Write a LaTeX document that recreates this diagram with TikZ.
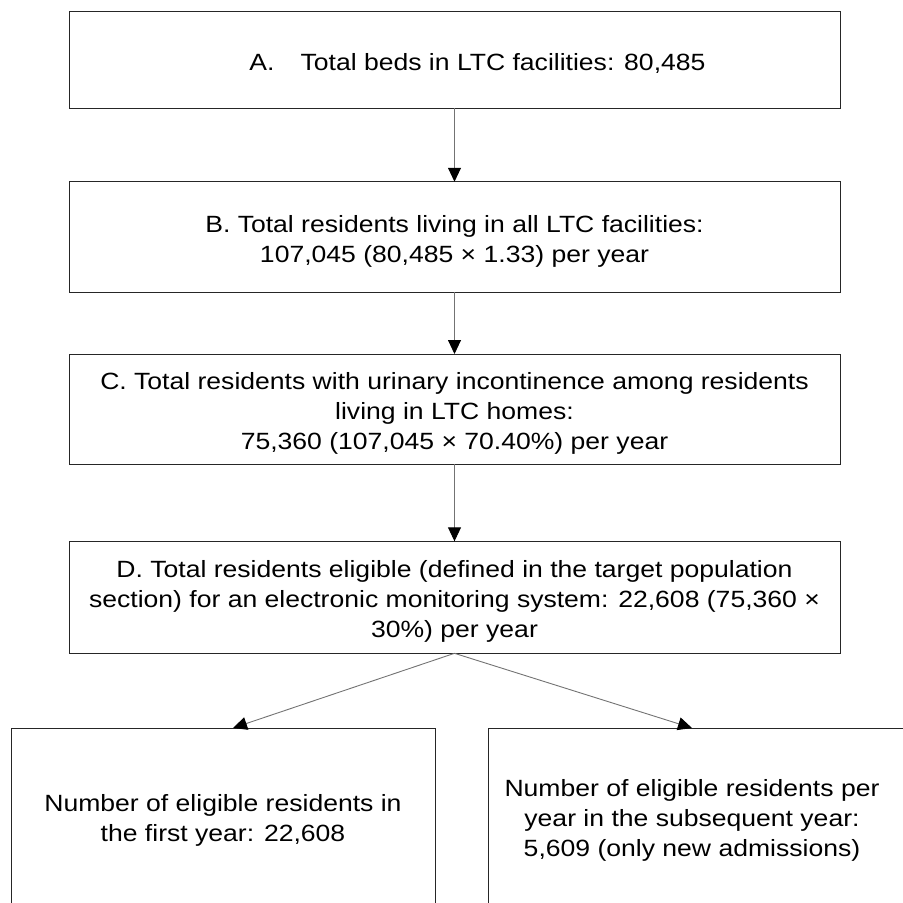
\documentclass[tikz,border=0pt]{standalone}
\usepackage{fontspec}
\setmainfont{Liberation Sans}[FakeStretch=1.13]
\usetikzlibrary{arrows.meta}
\newcommand{\firststrut}{\rule{0pt}{25pt}}
\tikzset{ box_style/.style = { rectangle % step box
        , draw = black!85
        , line width = 1pt
        , inner sep = 0pt
        , outer sep = 0pt
        , align = center
        , minimum width = 771pt
        , font = \fontsize{23.5}{30}\selectfont
        }
        , txt_style/.style = { rectangle % plain text
        , inner sep = 0pt
        , align = center
        , font = \fontsize{23.5}{30}\selectfont
        }
        }

\begin{document}
\begin{tikzpicture}[x=1pt, y=-1pt,
        edge_style/.style={draw=black!55, line width=0.9pt, -{Triangle[width=13pt,length=14pt,color=black]}}]
        \useasboundingbox (0,0) rectangle (903,903);

        \node [box_style, minimum height=97pt](A) at (454.5,59.5) {\firststrut\hspace*{46pt}A.\hspace{26pt}Total beds in LTC facilities: 80,485};
        \node [box_style, minimum height=110.5pt](B) at (454.5,237) {\firststrut B. Total residents living in all LTC facilities:\\107,045 (80,485 × 1.33) per year};
        \node [box_style, minimum height=110pt](C) at (454.5,409) {\firststrut C. Total residents with urinary incontinence among residents\\living in LTC homes:\\75,360 (107,045 × 70.40\%) per year};
        \node [box_style, minimum height=112pt](D) at (454.5,597.3) {\firststrut D. Total residents eligible (defined in the target population\\section) for an electronic monitoring system: 22,608 (75,360 ×\\30\%) per year};
        \node [box_style, minimum width=424pt, minimum height=176pt](first) at (223,816) {\firststrut Number of eligible residents in\\the first year: 22,608};
        \node [box_style, minimum width=432pt, minimum height=176pt, anchor=north west](next) at (488,728) {};
        \node [txt_style](next_txt) at (692,816) {\firststrut Number of eligible residents per\\year in the subsequent year:\\5,609 (only new admissions)};

        \draw [edge_style] (A) -- (B);
        \draw [edge_style] (B) -- (C);
        \draw [edge_style] (C) -- (D);
        \draw [edge_style] (D.south) -- ([xshift=10pt]first.north);
        \draw [edge_style] (D.south) -- (next_txt |- next.north);
\end{tikzpicture}
\end{document}
